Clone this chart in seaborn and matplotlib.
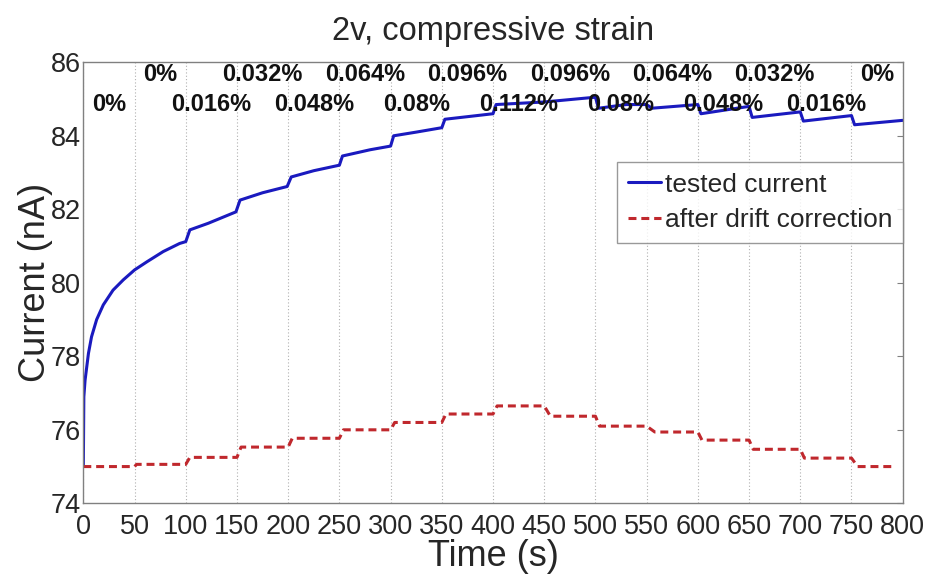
import numpy as np
import pandas as pd
import matplotlib
matplotlib.use('Agg')
import matplotlib.pyplot as plt
import seaborn as sns

# ── data ────────────────────────────────────────────────
blue_t = [0, 0.5, 1.7, 5, 8, 13, 19.5, 29, 39, 50, 62, 78, 94, 100, 104, 122,
          149, 153, 175, 199, 203, 225, 250, 253, 280, 300, 303, 325, 350, 353,
          375, 400, 403, 450, 500, 503, 530, 550, 555, 600, 603, 650, 653, 700,
          703, 750, 753, 800]
blue_v = [75.0, 76.9, 77.35, 78.08, 78.53, 79.0, 79.4, 79.8, 80.08, 80.35, 80.57,
          80.85, 81.07, 81.12, 81.44, 81.62, 81.93, 82.25, 82.45, 82.62, 82.88,
          83.05, 83.2, 83.45, 83.62, 83.72, 84.0, 84.1, 84.22, 84.45, 84.52, 84.6,
          84.85, 84.92, 85.05, 84.75, 84.85, 84.85, 84.75, 84.85, 84.6, 84.8, 84.5,
          84.65, 84.4, 84.55, 84.3, 84.42]

red_t = [0, 50, 52, 100, 104, 150, 154, 200, 204, 250, 254, 300, 304, 350, 354,
         400, 404, 450, 456, 500, 504, 550, 558, 600, 604, 650, 654, 700, 704,
         750, 756, 790]
red_v = [75.0, 75.0, 75.06, 75.06, 75.25, 75.25, 75.53, 75.53, 75.77, 75.77, 76.0,
         76.0, 76.2, 76.2, 76.43, 76.43, 76.65, 76.65, 76.37, 76.37, 76.1, 76.1,
         75.94, 75.94, 75.72, 75.72, 75.47, 75.47, 75.23, 75.23, 75.0, 75.0]

strain_labels = ['0%', '0%', '0.016%', '0.032%', '0.048%', '0.064%', '0.08%', '0.096%',
                 '0.112%', '0.096%', '0.08%', '0.064%', '0.048%', '0.032%', '0.016%', '0%']
segment_len = 50

x_ticks = list(range(0, 801, 50))
y_ticks = list(range(74, 87, 2))

# ── plot ─────────────────────────────────────────────────
sns.set_style('white')
plt.rcParams['font.family'] = ['Liberation Sans', 'DejaVu Sans']

fig = plt.figure(figsize=(9.29, 5.81), dpi=100)
ax = fig.add_axes([0.0897, 0.1337, 0.8820, 0.7591])

sns.lineplot(x=blue_t, y=blue_v, ax=ax, color='#1a1abf', linewidth=2.2,
             sort=False, estimator=None, label='tested current')
sns.lineplot(x=red_t, y=red_v, ax=ax, color='#c0282d', linewidth=2.2,
             sort=False, estimator=None, label='after drift correction')
ax.lines[1].set_dashes((2.6, 1.6))

ax.set_xlim(0, 800)
ax.set_ylim(74, 86)
ax.set_xticks(x_ticks)
ax.set_yticks(y_ticks)
ax.tick_params(direction='in', length=4, width=0.8, color='#808080',
               labelsize=19.5, top=False, right=True)
ax.tick_params(axis='x', pad=8)
ax.tick_params(axis='y', pad=2)
ax.xaxis.grid(True, linestyle=(0, (1, 2)), color='#b0b0b0', linewidth=0.8)
ax.yaxis.grid(False)
for s in ax.spines.values():
    s.set_color('#808080')
    s.set_linewidth(1.0)

ax.set_xlabel('Time (s)', fontsize=26, labelpad=-1)
ax.set_ylabel('Current (nA)', fontsize=26, labelpad=-2)
ax.set_title('2v, compressive strain', fontsize=23.5, pad=16)

# strain annotations, alternating rows
for i, lab in enumerate(strain_labels):
    xc = segment_len * i + segment_len / 2
    yc = 84.86 if i % 2 == 0 else 85.68
    ax.text(xc, yc, lab, ha='center', va='center', fontsize=17, fontweight='bold',
            family=['Liberation Sans Narrow', 'Liberation Sans'], color='#111111')

leg = ax.legend(loc='upper right', bbox_to_anchor=(1.0, 0.774), fontsize=19,
                handlelength=1.25, handletextpad=0.15, borderpad=0.4,
                labelspacing=0.45, borderaxespad=0, frameon=True, fancybox=False)
leg.get_frame().set_edgecolor('#808080')
leg.get_frame().set_linewidth(1.0)

fig.savefig('out.png', dpi=100)
